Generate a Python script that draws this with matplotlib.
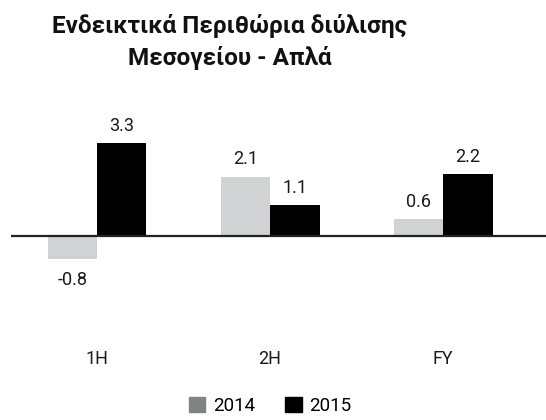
import numpy as np
import matplotlib.pyplot as plt
from matplotlib.patches import Patch

categories = ["1H", "2H", "FY"]
years = ["2014", "2015"]
values_2014 = [-0.8, 2.1, 0.6]
values_2015 = [3.3, 1.1, 2.2]

title = "Ενδεικτικά Περιθώρια διύλισης\nΜεσογείου - Απλά"

plt.rcParams['font.family'] = ['Roboto', 'DejaVu Sans']

W, H = 546, 420
fig = plt.figure(figsize=(W / 100, H / 100), dpi=100)

# axes: left at x=11px, right at edge, top at 110px, bottom at 340px
ax = fig.add_axes([11 / W, 1 - 340 / H, 1 - 11 / W, 230 / H])

x = np.arange(len(categories))
bw = 0.286
c14 = "#d1d2d4"
c15 = "#000000"

b1 = ax.bar(x - bw / 2, values_2014, bw, color=c14, linewidth=0)
b2 = ax.bar(x + bw / 2, values_2015, bw, color=c15, linewidth=0)

for bars in (b1, b2):
    for rect in bars:
        v = rect.get_height()
        xc = rect.get_x() + rect.get_width() / 2
        if v >= 0:
            ax.annotate(f"{v:.1f}", (xc, v), xytext=(0, 6), textcoords="offset points",
                        ha="center", va="bottom", fontsize=13, color="#1a1a1a")
        else:
            ax.annotate(f"{v:.1f}", (xc, v), xytext=(0, -9), textcoords="offset points",
                        ha="center", va="top", fontsize=13, color="#1a1a1a")

ax.axhline(0, color="#222222", linewidth=1.6, zorder=3)

ax.set_xlim(-0.497, 2.595)
ax.set_ylim(-(340 - 236) / 28.2, (236 - 110) / 28.2)
ax.set_xticks(x)
ax.set_xticklabels(categories, fontsize=13, color="#1a1a1a")
ax.tick_params(axis="x", length=0, pad=7)
ax.set_yticks([])
for s in ax.spines.values():
    s.set_visible(False)

fig.text(230 / W, 1 - 42 / H, title, ha="center", va="center", fontsize=17.5,
         fontweight="bold", linespacing=1.45, color="#111111")

handles = [Patch(color="#808285", label=years[0]), Patch(color=c15, label=years[1])]
fig.legend(handles=handles, loc="center", bbox_to_anchor=(270 / W, 1 - 406 / H),
           ncol=2, frameon=False, fontsize=13.5, handlelength=0.9, handleheight=0.9,
           handletextpad=0.4, columnspacing=1.6)

fig.savefig("out.png", dpi=100)
